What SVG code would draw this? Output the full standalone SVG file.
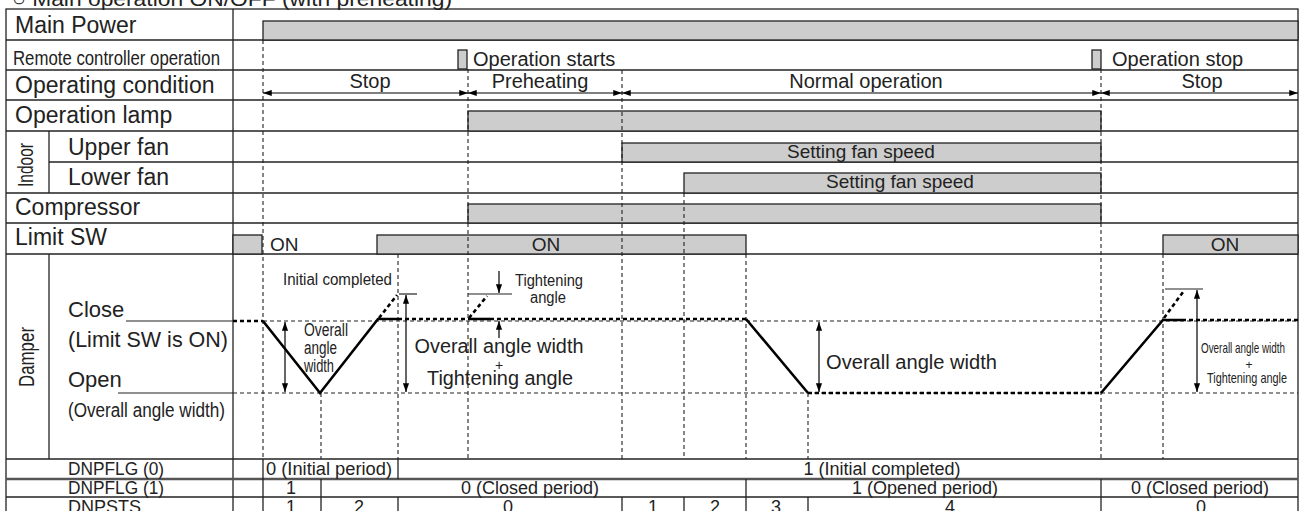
<svg xmlns="http://www.w3.org/2000/svg" width="1300" height="511" viewBox="0 0 1300 511">
<style>
text { font-family: "Liberation Sans", Arial, sans-serif; fill: #222; }
.l23 { font-size: 23px; }
.l22 { font-size: 22px; }
.l20 { font-size: 20px; }
.l19 { font-size: 19px; }
.l18 { font-size: 18px; }
.l16 { font-size: 16px; }
.mid { text-anchor: middle; }
.grid { stroke: #222; stroke-width: 1.3; fill: none; }
.dash { stroke: #222; stroke-width: 1.1; stroke-dasharray: 4 3; fill: none; }
.bar { fill: #cdcdcd; stroke: #222; stroke-width: 1.3; }
.solid { stroke: #000; stroke-width: 2.6; fill: none; }
.dot { stroke: #000; stroke-width: 2.6; stroke-dasharray: 4 3; fill: none; }
.thin { stroke: #222; stroke-width: 1.2; fill: none; }
.arr2 { stroke: #000; stroke-width: 1.2; fill: none; marker-start: url(#ah); marker-end: url(#ah); }
.arr1 { stroke: #000; stroke-width: 1.2; fill: none; marker-end: url(#ah); }
</style>
<defs>
<marker id="ah" viewBox="0 0 10 8" refX="10" refY="4" markerWidth="10" markerHeight="7" markerUnits="userSpaceOnUse" orient="auto-start-reverse">
<path d="M0,0.5 L10,4 L0,7.5 z" fill="#000"/>
</marker>
</defs>

<text class="l20" x="12" y="6" textLength="440" lengthAdjust="spacingAndGlyphs">○ Main operation ON/OFF (with preheating)</text>

<g id="table">
<rect class="grid" x="6" y="9" width="1292" height="530" stroke-width="1.6"/>
<line class="grid" x1="233" y1="9" x2="233" y2="539"/>
<line class="grid" x1="6" y1="40" x2="1298" y2="40"/>
<line class="grid" x1="6" y1="70" x2="1298" y2="70"/>
<line class="grid" x1="6" y1="100" x2="1298" y2="100"/>
<line class="grid" x1="6" y1="131" x2="1298" y2="131"/>
<line class="grid" x1="49" y1="162" x2="1298" y2="162"/>
<line class="grid" x1="6" y1="193" x2="1298" y2="193"/>
<line class="grid" x1="6" y1="223" x2="1298" y2="223"/>
<line class="grid" x1="6" y1="254" x2="1298" y2="254"/>
<line class="grid" x1="6" y1="459" x2="1298" y2="459"/>
<line x1="6" y1="479" x2="1298" y2="479" stroke="#555" stroke-width="2.6"/>
<line class="grid" x1="6" y1="497" x2="1298" y2="497"/>
<line class="grid" x1="49" y1="131" x2="49" y2="193"/>
<line class="grid" x1="49" y1="254" x2="49" y2="459"/>
</g>

<g id="main-power">
<text class="l23" x="15" y="33">Main Power</text>
<rect class="bar" x="263" y="21" width="1035" height="19"/>
</g>

<g id="remote-controller">
<text class="l20" x="13" y="65" textLength="207" lengthAdjust="spacingAndGlyphs">Remote controller operation</text>
<rect class="bar" x="458" y="50" width="9" height="19"/>
<text class="l20" x="473" y="66">Operation starts</text>
<rect class="bar" x="1092" y="50" width="9" height="19"/>
<text class="l20" x="1112" y="66">Operation stop</text>
</g>

<g id="operating-condition">
<text class="l23" x="15" y="93">Operating condition</text>
<text class="l20 mid" x="370" y="88">Stop</text>
<text class="l20 mid" x="540" y="88">Preheating</text>
<text class="l20 mid" x="866" y="88">Normal operation</text>
<text class="l20 mid" x="1202" y="88">Stop</text>
</g>

<g id="operation-lamp">
<text class="l23" x="15" y="123">Operation lamp</text>
<rect class="bar" x="468" y="111" width="633" height="20"/>
</g>

<g id="indoor">
<text class="l22 mid" x="33" y="165" transform="rotate(-90 33 165)" textLength="44" lengthAdjust="spacingAndGlyphs">Indoor</text>
</g>

<g id="upper-fan">
<text class="l23" x="68" y="155">Upper fan</text>
<rect class="bar" x="622" y="143" width="479" height="19"/>
<text class="l19 mid" x="861" y="158">Setting fan speed</text>
</g>

<g id="lower-fan">
<text class="l23" x="68" y="185">Lower fan</text>
<rect class="bar" x="684" y="173" width="417" height="20"/>
<text class="l19 mid" x="900" y="188">Setting fan speed</text>
</g>

<g id="compressor">
<text class="l23" x="15" y="215">Compressor</text>
<rect class="bar" x="468" y="204" width="633" height="19"/>
</g>

<g id="limit-sw">
<text class="l23" x="15" y="245">Limit SW</text>
<rect class="bar" x="233" y="235" width="29" height="19"/>
<text class="l19" x="270" y="251">ON</text>
<rect class="bar" x="377" y="235" width="369" height="19"/>
<text class="l19 mid" x="546" y="251">ON</text>
<rect class="bar" x="1163" y="235" width="135" height="19"/>
<text class="l19 mid" x="1225" y="251">ON</text>
</g>

<g id="guides">
<line class="dash" x1="263" y1="40" x2="263" y2="459"/>
<line class="dash" x1="468" y1="69" x2="468" y2="459"/>
<line class="dash" x1="622" y1="70" x2="622" y2="459"/>
<line class="dash" x1="684" y1="193" x2="684" y2="459"/>
<line class="dash" x1="746" y1="254" x2="746" y2="459"/>
<line class="dash" x1="808" y1="393" x2="808" y2="459"/>
<line class="dash" x1="1101" y1="69" x2="1101" y2="459"/>
<line class="dash" x1="1163" y1="254" x2="1163" y2="459"/>
<line class="dash" x1="321" y1="393" x2="321" y2="459"/>
<line class="dash" x1="398" y1="254" x2="398" y2="459"/>
<line class="dash" x1="263" y1="321" x2="1298" y2="321"/>
<line class="dash" x1="233" y1="393" x2="1298" y2="393"/>
</g>

<g id="damper">
<text class="l22" x="34" y="357" transform="rotate(-90 34 357)" text-anchor="middle" textLength="60" lengthAdjust="spacingAndGlyphs">Damper</text>
<text class="l22" x="68" y="317">Close</text>
<line class="thin" x1="126" y1="321" x2="233" y2="321"/>
<text class="l22" x="68" y="347" textLength="160" lengthAdjust="spacingAndGlyphs">(Limit SW is ON)</text>
<text class="l22" x="68" y="387">Open</text>
<line class="thin" x1="118" y1="393" x2="233" y2="393"/>
<text class="l20" x="68" y="417" textLength="157" lengthAdjust="spacingAndGlyphs">(Overall angle width)</text>

<line class="dot" x1="233" y1="321" x2="263" y2="321"/>
<polyline class="solid" points="263,321 320,393 378,319 398,319"/>
<line class="dot" x1="379" y1="318" x2="397" y2="295"/>
<line class="dot" x1="398" y1="319" x2="468" y2="319"/>
<line class="solid" x1="468" y1="319" x2="490" y2="319"/>
<line class="dot" x1="469" y1="318" x2="487" y2="296"/>
<line class="dot" x1="490" y1="319" x2="746" y2="319"/>
<line class="solid" x1="746" y1="319" x2="808" y2="393"/>
<line class="dot" x1="808" y1="393" x2="1101" y2="393"/>
<polyline class="solid" points="1101,393 1163,320 1182,320"/>
<line class="dot" x1="1164" y1="318" x2="1183" y2="292"/>
<line class="dot" x1="1182" y1="320" x2="1298" y2="320"/>

<line class="thin" x1="399" y1="294" x2="417" y2="294"/>
<line class="thin" x1="468" y1="294" x2="512" y2="294"/>
<line class="thin" x1="1165" y1="289" x2="1203" y2="289"/>

<text class="l16" x="283" y="285" textLength="109" lengthAdjust="spacingAndGlyphs">Initial completed</text>
<text class="l18" x="304" y="336" textLength="44" lengthAdjust="spacingAndGlyphs">Overall</text>
<text class="l18" x="304" y="354" textLength="33" lengthAdjust="spacingAndGlyphs">angle</text>
<text class="l18" x="304" y="372" textLength="30" lengthAdjust="spacingAndGlyphs">width</text>
<text class="l16 mid" x="549" y="286" textLength="68" lengthAdjust="spacingAndGlyphs">Tightening</text>
<text class="l16 mid" x="548" y="303" textLength="36" lengthAdjust="spacingAndGlyphs">angle</text>
<text class="l20 mid" x="499" y="353" textLength="169" lengthAdjust="spacingAndGlyphs">Overall angle width</text>
<text class="mid" x="499" y="370" font-size="14">+</text>
<text class="l20 mid" x="500" y="385" textLength="146" lengthAdjust="spacingAndGlyphs">Tightening angle</text>
<text class="l20" x="826" y="369" textLength="171" lengthAdjust="spacingAndGlyphs">Overall angle width</text>
<text class="mid" x="1243" y="353" font-size="15" textLength="84" lengthAdjust="spacingAndGlyphs">Overall angle width</text>
<text class="mid" x="1249" y="369" font-size="12">+</text>
<text class="mid" x="1247" y="383" font-size="15" textLength="80" lengthAdjust="spacingAndGlyphs">Tightening angle</text>
</g>

<g id="dnpflg0">
<text class="l18" x="68" y="475" textLength="96" lengthAdjust="spacingAndGlyphs">DNPFLG (0)</text>
<line class="grid" x1="263" y1="459" x2="263" y2="479"/>
<line class="grid" x1="398" y1="459" x2="398" y2="479"/>
<text class="l18" x="266" y="475" textLength="126" lengthAdjust="spacingAndGlyphs">0 (Initial period)</text>
<text class="l18 mid" x="882" y="475">1 (Initial completed)</text>
</g>

<g id="dnpflg1">
<text class="l18" x="68" y="494" textLength="96" lengthAdjust="spacingAndGlyphs">DNPFLG (1)</text>
<line class="grid" x1="263" y1="479" x2="263" y2="497"/>
<line class="grid" x1="321" y1="479" x2="321" y2="497"/>
<line class="grid" x1="746" y1="479" x2="746" y2="497"/>
<line class="grid" x1="1101" y1="479" x2="1101" y2="497"/>
<text class="l18 mid" x="291" y="494">1</text>
<text class="l18 mid" x="530" y="494">0 (Closed period)</text>
<text class="l18 mid" x="925" y="494">1 (Opened period)</text>
<text class="l18 mid" x="1200" y="494">0 (Closed period)</text>
</g>

<g id="dnpsts">
<text class="l18" x="68" y="513">DNPSTS</text>
<line class="grid" x1="263" y1="497" x2="263" y2="539"/>
<line class="grid" x1="321" y1="497" x2="321" y2="539"/>
<line class="grid" x1="398" y1="497" x2="398" y2="539"/>
<line class="grid" x1="622" y1="497" x2="622" y2="539"/>
<line class="grid" x1="684" y1="497" x2="684" y2="539"/>
<line class="grid" x1="746" y1="497" x2="746" y2="539"/>
<line class="grid" x1="808" y1="497" x2="808" y2="539"/>
<line class="grid" x1="1101" y1="497" x2="1101" y2="539"/>
<text class="l18 mid" x="291" y="513">1</text>
<text class="l18 mid" x="359" y="513">2</text>
<text class="l18 mid" x="508" y="513">0</text>
<text class="l18 mid" x="653" y="513">1</text>
<text class="l18 mid" x="715" y="513">2</text>
<text class="l18 mid" x="776" y="513">3</text>
<text class="l18 mid" x="950" y="513">4</text>
<text class="l18 mid" x="1201" y="513">0</text>
</g>

<g id="connectors">
<line class="arr2" x1="263" y1="93" x2="468" y2="93"/>
<line class="arr2" x1="468" y1="93" x2="622" y2="93"/>
<line class="arr2" x1="622" y1="93" x2="1101" y2="93"/>
<line class="arr2" x1="1101" y1="93" x2="1298" y2="93"/>
<line class="arr2" x1="285" y1="322" x2="285" y2="392"/>
<line class="arr2" x1="406" y1="295" x2="406" y2="392"/>
<line class="arr1" x1="499" y1="271" x2="499" y2="293"/>
<line class="arr1" x1="499" y1="338" x2="499" y2="321"/>
<line class="arr2" x1="819" y1="322" x2="819" y2="392"/>
<line class="arr2" x1="1197" y1="290" x2="1197" y2="392"/>
</g>
</svg>
